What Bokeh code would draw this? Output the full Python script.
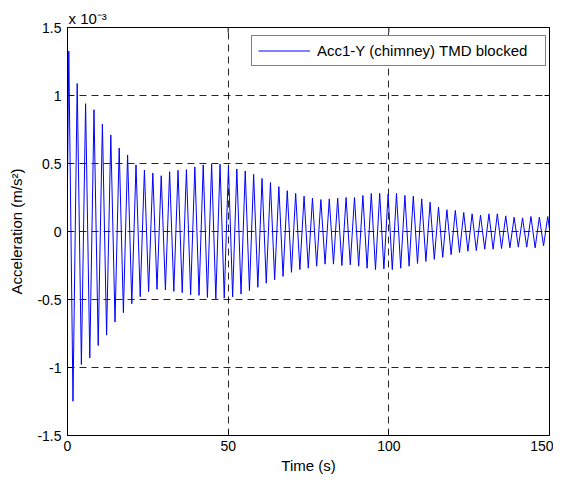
import numpy as np
from bokeh.plotting import figure
from bokeh.models import Range1d, FixedTicker, Legend, LegendItem
from bokeh.embed import file_html
from bokeh.resources import INLINE

# ---- data (acceleration in units of 1e-3 m/s^2) ----
START_VALUE = 0.37          # value at t = 0
FIRST_PEAK_TIME = 0.4       # s
CYCLE_PERIOD = 2.615        # s, spacing of successive maxima

peak_values = [1.327, 1.088, 0.94, 0.895, 0.79, 0.71, 0.614, 0.563, 0.49, 0.452,
               0.43, 0.41, 0.44, 0.45, 0.455, 0.475, 0.49, 0.495, 0.495, 0.48,
               0.46, 0.445, 0.42, 0.39, 0.36, 0.33, 0.30, 0.28, 0.26, 0.245,
               0.235, 0.24, 0.245, 0.25, 0.25, 0.265, 0.28, 0.28, 0.275, 0.28,
               0.265, 0.26, 0.24, 0.215, 0.18, 0.16, 0.155, 0.14, 0.13, 0.12,
               0.13, 0.13, 0.115, 0.105, 0.10, 0.11, 0.105, 0.11]
trough_values = [-1.248, -0.978, -0.929, -0.838, -0.762, -0.666, -0.597, -0.531, -0.479, -0.442,
                 -0.425, -0.43, -0.44, -0.45, -0.465, -0.47, -0.485, -0.495, -0.49, -0.48,
                 -0.46, -0.435, -0.41, -0.38, -0.355, -0.33, -0.30, -0.28, -0.27, -0.255,
                 -0.24, -0.24, -0.25, -0.245, -0.255, -0.27, -0.28, -0.275, -0.28, -0.27,
                 -0.255, -0.235, -0.22, -0.205, -0.19, -0.17, -0.155, -0.145, -0.14, -0.13,
                 -0.13, -0.125, -0.12, -0.115, -0.115, -0.12, -0.105, -0.11]

x_ticks = [0, 50, 100, 150]
y_ticks = [-1.5, -1, -0.5, 0, 0.5, 1, 1.5]
y_tick_labels = ["-1.5", "-1", "-0.5", "0", "0.5", "1", "1.5"]
series_label = "Acc1-Y (chimney) TMD blocked"
x_label = "Time (s)"
y_label = "Acceleration (m/s\u00b2)"
multiplier_label = "x 10\u207b\u00b3"

X_MIN, X_MAX = 0, 150
Y_MIN, Y_MAX = -1.5, 1.5

# ---- build the time series from the read extremes ----
t = [0.0]
a = [START_VALUE]
for i, (pk, tr) in enumerate(zip(peak_values, trough_values)):
    tp = FIRST_PEAK_TIME + i * CYCLE_PERIOD
    t += [tp, tp + CYCLE_PERIOD / 2]
    a += [pk, tr]

FONT = "Liberation Sans"

p = figure(frame_width=482, frame_height=408, output_backend="svg", toolbar_location=None,
           x_range=Range1d(X_MIN, X_MAX), y_range=Range1d(Y_MIN, Y_MAX),
           min_border_left=67, min_border_right=4, min_border_top=27, min_border_bottom=10,
           background_fill_color="white", border_fill_color="white")

p.title.text = multiplier_label
p.title.align = "left"
p.title.offset = 1
p.title.standoff = 2
p.title.text_font = FONT
p.title.text_font_size = "15px"
p.title.text_font_style = "normal"
p.title.text_color = "black"

r = p.line(t, a, line_color="#0000FF", line_width=1)

p.outline_line_color = "black"
p.outline_line_width = 1

for ax in (p.xaxis[0], p.yaxis[0]):
    ax.axis_line_color = "black"
    ax.major_tick_line_color = "black"
    ax.major_tick_in = 5
    ax.major_tick_out = 0
    ax.minor_tick_line_color = None
    ax.major_label_text_font = FONT
    ax.major_label_text_font_size = "14px"
    ax.major_label_text_color = "black"
    ax.axis_label_text_font = FONT
    ax.axis_label_text_font_size = "15px"
    ax.axis_label_text_font_style = "normal"
    ax.axis_label_text_color = "black"

p.xaxis.ticker = FixedTicker(ticks=x_ticks)
p.yaxis.ticker = FixedTicker(ticks=y_ticks)
p.yaxis.major_label_overrides = {v: s for v, s in zip(y_ticks, y_tick_labels)}
p.xaxis.axis_label = x_label
p.yaxis.axis_label = y_label
p.xaxis.major_label_standoff = 5
p.yaxis.major_label_standoff = 6
p.xaxis.axis_label_standoff = 3
p.yaxis.axis_label_standoff = 9

# inward ticks on the top and right edges (half of each dash is clipped by the frame)
p.scatter(x=x_ticks, y=[Y_MAX] * len(x_ticks), marker="dash", size=10, angle=np.pi / 2,
          line_color="black", line_width=1)
p.scatter(x=[X_MAX] * len(y_ticks), y=y_ticks, marker="dash", size=10,
          line_color="black", line_width=1)

for g, tk in ((p.xgrid[0], x_ticks), (p.ygrid[0], y_ticks)):
    g.grid_line_color = "black"
    g.grid_line_alpha = 0.85
    g.grid_line_dash = "7 5"
    g.grid_line_width = 1
    g.ticker = FixedTicker(ticks=tk)

legend = Legend(items=[LegendItem(label=series_label, renderers=[r])],
                location=(184, 369), padding=6, spacing=0, margin=0,
                glyph_width=52, glyph_height=11, label_height=11, label_standoff=7,
                label_width=222,
                label_text_font=FONT, label_text_font_size="15px", label_text_color="black",
                border_line_color="black", border_line_width=1, background_fill_color="white",
                background_fill_alpha=1.0)
p.add_layout(legend)

open("out.html", "w").write(file_html(p, INLINE))
